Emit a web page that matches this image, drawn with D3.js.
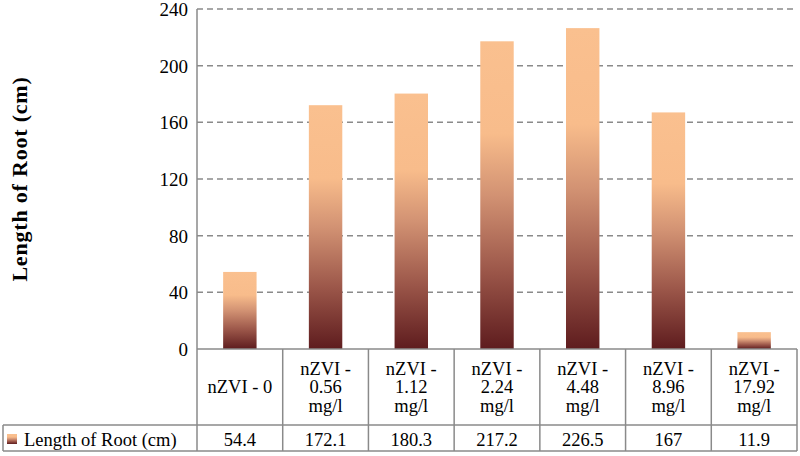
<!DOCTYPE html>
<html><head><meta charset="utf-8">
<script src="https://cdn.jsdelivr.net/npm/d3@7"></script>
<style>body{margin:0;background:#fff}svg{display:block}
svg text{font-family:"Liberation Serif","Times New Roman",Times,serif;font-weight:400}
svg text.title{font-weight:700}</style>
</head><body>
<svg id="c" width="800" height="456"></svg>
<script>
const categories = [["nZVI - 0"],["nZVI -","0.56","mg/l"],["nZVI -","1.12","mg/l"],["nZVI -","2.24","mg/l"],["nZVI -","4.48","mg/l"],["nZVI -","8.96","mg/l"],["nZVI -","17.92","mg/l"]];
const valueLabels = ["54.4","172.1","180.3","217.2","226.5","167","11.9"];
const values = [54.4,172.1,180.3,217.2,226.5,167,11.9];
const yTicks = [0,40,80,120,160,200,240];
const seriesName = "Length of Root (cm)";
const yTitle = "Length of Root (cm)";

const svg = d3.select("#c");
const L = 197, R = 797, T = 9, B = 349;
const rowH = 425, rowB = 451, tableL = 3;
const grey = "#8a8a8a";

const x = d3.scaleBand().domain(d3.range(values.length)).range([L, R]).paddingInner(0).paddingOuter(0);
const y = d3.scaleLinear().domain([0, 240]).range([B, T]);

const defs = svg.append("defs");
const g = defs.append("linearGradient").attr("id","bg").attr("x1",0).attr("y1",0).attr("x2",0).attr("y2",1);
[[0,"#fac08f"],[0.3,"#f8bc8b"],[0.5,"#d29273"],[0.75,"#9b5649"],[1,"#5e1c1e"]].forEach(([o,c])=>g.append("stop").attr("offset",o).attr("stop-color",c));

// gridlines
svg.append("g").selectAll("line").data(yTicks.filter(d=>d>0)).join("line")
  .attr("x1",L).attr("x2",R).attr("y1",d=>y(d)).attr("y2",d=>y(d))
  .attr("stroke",grey).attr("stroke-width",1.5).attr("stroke-dasharray","6,4");

// bars
const bw = x.bandwidth()*0.39;
svg.append("g").selectAll("rect").data(values).join("rect")
  .attr("x",(d,i)=>x(i)+(x.bandwidth()-bw)/2).attr("width",bw)
  .attr("y",d=>y(d)).attr("height",d=>B-y(d)).attr("fill","url(#bg)");

// y axis
svg.append("line").attr("x1",L).attr("x2",L).attr("y1",T).attr("y2",rowB).attr("stroke",grey).attr("stroke-width",1.5);
svg.append("g").selectAll("text").data(yTicks).join("text")
  .attr("x",L-9).attr("y",d=>y(d)+7).attr("text-anchor","end")
  .attr("font-size",19).attr("fill","#000").text(d=>d);

svg.append("text").attr("class","title").attr("transform",`translate(27,${(T+B)/2}) rotate(-90)`).attr("text-anchor","middle")
  .attr("font-size",22).attr("letter-spacing",0.8).text(yTitle);

// table
const tb = svg.append("g").attr("stroke",grey).attr("stroke-width",1.5).attr("fill","none");
tb.append("line").attr("x1",L).attr("x2",R).attr("y1",B).attr("y2",B);
tb.append("line").attr("x1",tableL).attr("x2",R).attr("y1",rowH).attr("y2",rowH);
tb.append("line").attr("x1",tableL).attr("x2",R).attr("y1",rowB).attr("y2",rowB);
tb.append("line").attr("x1",tableL).attr("x2",tableL).attr("y1",rowH).attr("y2",rowB);
tb.selectAll("line.v").data(d3.range(values.length)).join("line").attr("class","v")
  .attr("x1",i=>x(i)+x.bandwidth()).attr("x2",i=>x(i)+x.bandwidth()).attr("y1",B).attr("y2",rowB);

const cx = i=>x(i)+x.bandwidth()/2;
const hdr = svg.append("g").attr("font-size",18.5).attr("text-anchor","middle");
categories.forEach((lines,i)=>{
  const n = lines.length, lh = 18.5;
  const mid = (B+rowH)/2 + 6;
  lines.forEach((t,k)=>{
    hdr.append("text").attr("x",cx(i)).attr("y",mid + (k-(n-1)/2)*lh).text(t);
  });
});
svg.append("g").selectAll("text").data(valueLabels).join("text")
  .attr("x",(d,i)=>cx(i)).attr("y",rowB-5).attr("text-anchor","middle")
  .attr("font-size",18.5).text(d=>d);

// legend key
svg.append("rect").attr("x",7).attr("y",434).attr("width",10).attr("height",10).attr("fill","url(#bg)");
svg.append("text").attr("x",24).attr("y",rowB-5).attr("font-size",18.5).text(seriesName);
</script>
</body></html>
